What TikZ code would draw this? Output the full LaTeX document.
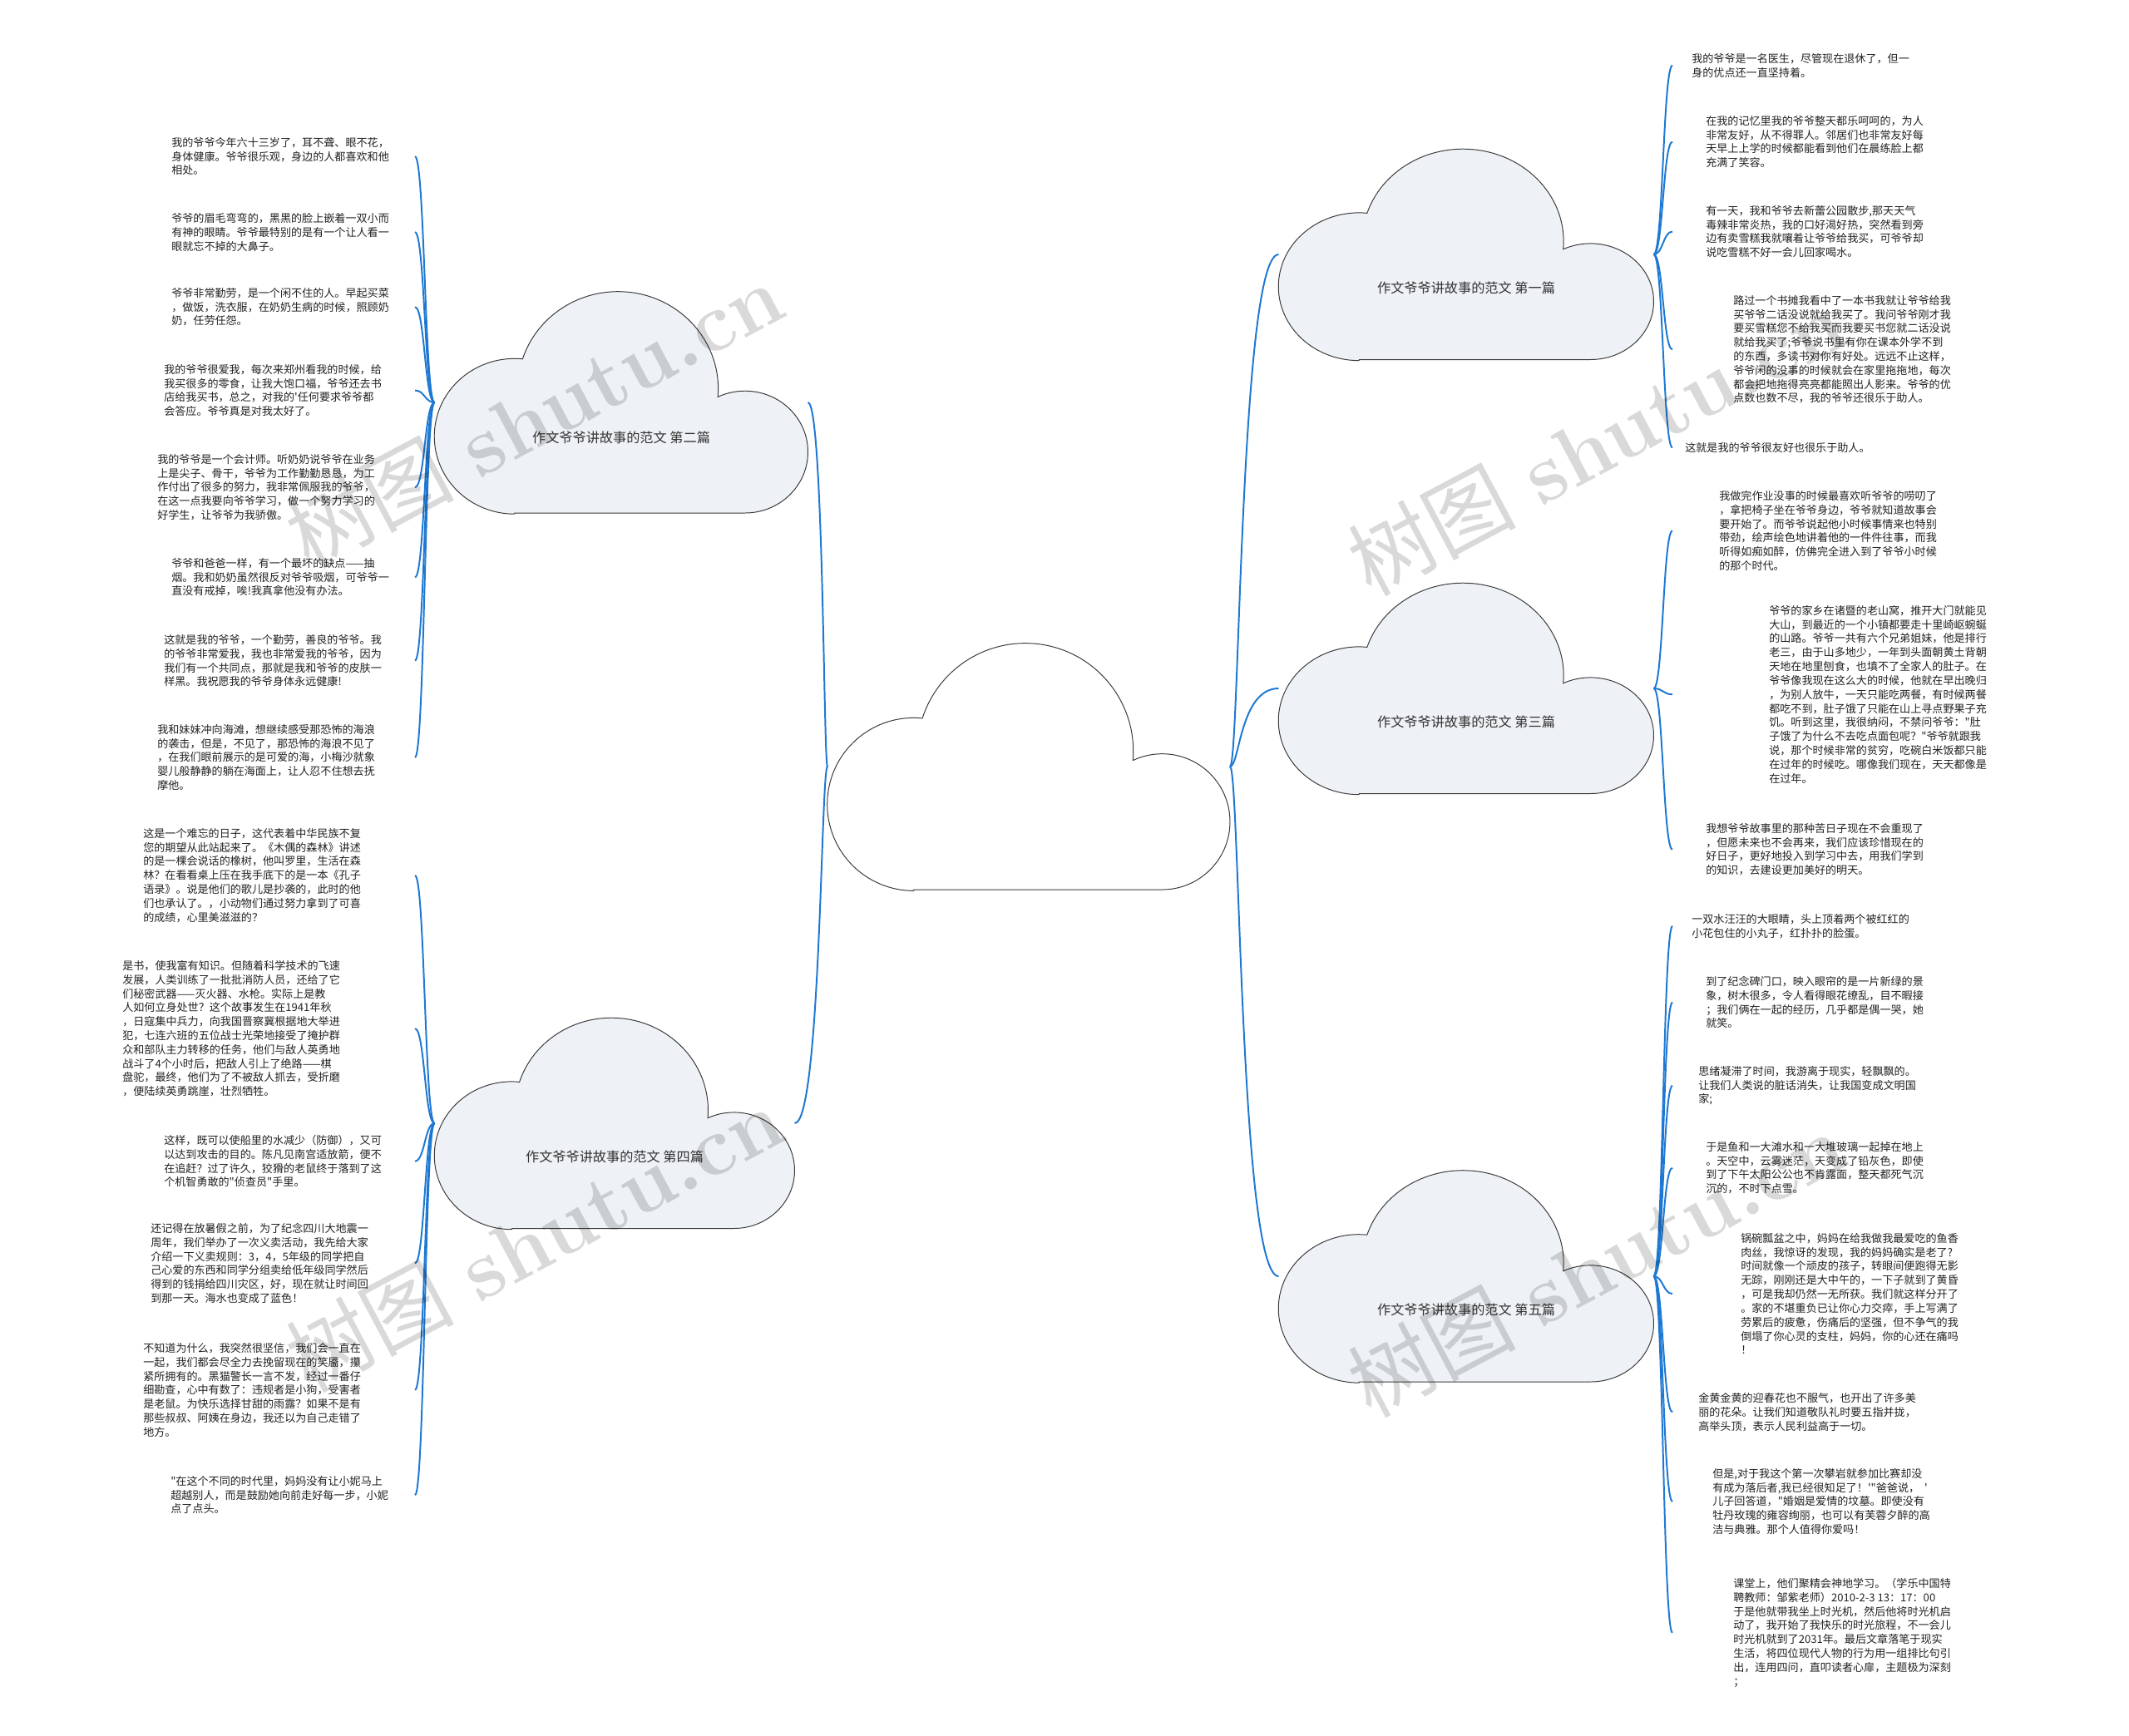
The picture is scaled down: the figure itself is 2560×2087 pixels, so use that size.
\documentclass[tikz,border=0pt]{standalone}
\usepackage{fontspec}
\newfontfamily\cjk{Noto Sans CJK SC}
\usetikzlibrary{calc}

\definecolor{linkblue}{HTML}{1E78D2}
\definecolor{cloudfill}{HTML}{EEF1F5}
\definecolor{cloudline}{HTML}{3A3A3A}
\definecolor{textgray}{HTML}{222222}

\newcommand\px{0.025cm}
% cloud outline, own units 1453 x 888, y up
\newcommand\cloudpath{(312,0) -- (1208,0) arc[start angle=-90, end angle=115.5, radius=245]
  arc[start angle=-4.85, end angle=162.2, radius=390]
  arc[start angle=84.2, end angle=270, radius=312] -- cycle}
% name, cx, cy, w, h, fill, title
\newcommand\mmcloud[7]{%
  \draw[cloudedge, fill=#6, shift={({#2-#4/2},{#3+#5/2})}, xscale=#4/1453, yscale=-#5/888] \cloudpath;
  \node[cloudbox, minimum width=#4*\px, minimum height=#5*\px] (#1) at (#2,#3) {};
  \node[cloudtitle] (#1t) at (#2,{#3+0.16*#5}) {#7};}
% curved branch from parent to child
\newcommand\branch[3][0.5]{%
  \path ($(#2)!#1!(#3)$) coordinate (lk);
  \draw[conn] (#2) .. controls (lk |- #2) and (lk |- #3) .. (#3);}

\tikzset{
  cloudedge/.style={draw=cloudline, line width=0.7pt},
  cloudbox/.style={inner sep=0pt, outer sep=0pt},
  cloudtitle/.style={font=\cjk\fontsize{11.5}{14}\selectfont, text=black!80},
  para/.style={anchor=north west, inner sep=0pt, align=left,
    font=\cjk\fontsize{9.3}{11.95}\selectfont, text=textgray},
  conn/.style={draw=linkblue, line width=1.4pt},
  watermark/.style={rotate=28, text=black, text opacity=0.15,
    font=\fontsize{72}{80}\selectfont},
}

\begin{document}
\begin{tikzpicture}[x=\px, y=-\px]
  \useasboundingbox (0,0) rectangle (2560,2087);
  \fill[white] (0,0) rectangle (2560,2087);

  % --- left paragraphs ---
  \node[para] (l1) at (206,165) {我的爷爷今年六十三岁了，耳不聋、眼不花，\\身体健康。爷爷很乐观，身边的人都喜欢和他\\相处。};
  \node[para] (l2) at (206,256) {爷爷的眉毛弯弯的，黑黑的脸上嵌着一双小而\\有神的眼睛。爷爷最特别的是有一个让人看一\\眼就忘不掉的大鼻子。};
  \node[para] (l3) at (206,346) {爷爷非常勤劳，是一个闲不住的人。早起买菜\\，做饭，洗衣服，在奶奶生病的时候，照顾奶\\奶，任劳任怨。};
  \node[para] (l4) at (197,438) {我的爷爷很爱我，每次来郑州看我的时候，给\\我买很多的零食，让我大饱口福，爷爷还去书\\店给我买书，总之，对我的'任何要求爷爷都\\会答应。爷爷真是对我太好了。};
  \node[para] (l5) at (189,546) {我的爷爷是一个会计师。听奶奶说爷爷在业务\\上是尖子、骨干，爷爷为工作勤勤恳恳，为工\\作付出了很多的努力，我非常佩服我的爷爷，\\在这一点我要向爷爷学习，做一个努力学习的\\好学生，让爷爷为我骄傲。};
  \node[para] (l6) at (206,671) {爷爷和爸爸一样，有一个最坏的缺点——抽\\烟。我和奶奶虽然很反对爷爷吸烟，可爷爷一\\直没有戒掉，唉!我真拿他没有办法。};
  \node[para] (l7) at (197,763) {这就是我的爷爷，一个勤劳，善良的爷爷。我\\的爷爷非常爱我，我也非常爱我的爷爷，因为\\我们有一个共同点，那就是我和爷爷的皮肤一\\样黑。我祝愿我的爷爷身体永远健康!};
  \node[para] (l8) at (189,871) {我和妹妹冲向海滩，想继续感受那恐怖的海浪\\的袭击，但是，不见了，那恐怖的海浪不见了\\，在我们眼前展示的是可爱的海，小梅沙就象\\婴儿般静静的躺在海面上，让人忍不住想去抚\\摩他。};
  \node[para] (l9) at (172,996) {这是一个难忘的日子，这代表着中华民族不复\\您的期望从此站起来了。《木偶的森林》讲述\\的是一棵会说话的橡树，他叫罗里，生活在森\\林？在看看桌上压在我手底下的是一本《孔子\\语录》。说是他们的歌儿是抄袭的，此时的他\\们也承认了。，小动物们通过努力拿到了可喜\\的成绩，心里美滋滋的？};
  \node[para] (l10) at (147,1155) {是书，使我富有知识。但随着科学技术的飞速\\发展，人类训练了一批批消防人员，还给了它\\们秘密武器——灭火器、水枪。实际上是教\\人如何立身处世？这个故事发生在1941年秋\\，日寇集中兵力，向我国晋察冀根据地大举进\\犯，七连六班的五位战士光荣地接受了掩护群\\众和部队主力转移的任务，他们与敌人英勇地\\战斗了4个小时后，把敌人引上了绝路——棋\\盘驼，最终，他们为了不被敌人抓去，受折磨\\，便陆续英勇跳崖，壮烈牺牲。};
  \node[para] (l11) at (197,1365) {这样，既可以使船里的水减少（防御），又可\\以达到攻击的目的。陈凡见南宫适放箭，便不\\在追赶？过了许久，狡猾的老鼠终于落到了这\\个机智勇敢的"侦查员"手里。};
  \node[para] (l12) at (181,1471) {还记得在放暑假之前，为了纪念四川大地震一\\周年，我们举办了一次义卖活动，我先给大家\\介绍一下义卖规则：3，4，5年级的同学把自\\己心爱的东西和同学分组卖给低年级同学然后\\得到的钱捐给四川灾区，好，现在就让时间回\\到那一天。海水也变成了蓝色！};
  \node[para] (l13) at (172,1615) {不知道为什么，我突然很坚信，我们会一直在\\一起，我们都会尽全力去挽留现在的笑靥，攥\\紧所拥有的。黑猫警长一言不发，经过一番仔\\细勘查，心中有数了：违规者是小狗，受害者\\是老鼠。为快乐选择甘甜的雨露？如果不是有\\那些叔叔、阿姨在身边，我还以为自己走错了\\地方。};
  \node[para] (l14) at (205,1775) {"在这个不同的时代里，妈妈没有让小妮马上\\超越别人，而是鼓励她向前走好每一步，小妮\\点了点头。};

  % --- right paragraphs ---
  \node[para] (r1) at (2034,64) {我的爷爷是一名医生，尽管现在退休了，但一\\身的优点还一直坚持着。};
  \node[para] (r2) at (2051,139) {在我的记忆里我的爷爷整天都乐呵呵的，为人\\非常友好，从不得罪人。邻居们也非常友好每\\天早上上学的时候都能看到他们在晨练脸上都\\充满了笑容。};
  \node[para] (r3) at (2051,247) {有一天，我和爷爷去新蕾公园散步,那天天气\\毒辣非常炎热，我的口好渴好热，突然看到旁\\边有卖雪糕我就嚷着让爷爷给我买，可爷爷却\\说吃雪糕不好一会儿回家喝水。};
  \node[para] (r4) at (2084,355) {路过一个书摊我看中了一本书我就让爷爷给我\\买爷爷二话没说就给我买了。我问爷爷刚才我\\要买雪糕您不给我买而我要买书您就二话没说\\就给我买了;爷爷说书里有你在课本外学不到\\的东西，多读书对你有好处。远远不止这样，\\爷爷闲的没事的时候就会在家里拖拖地，每次\\都会把地拖得亮亮都能照出人影来。爷爷的优\\点数也数不尽，我的爷爷还很乐于助人。};
  \node[para] (r5) at (2026,532) {这就是我的爷爷很友好也很乐于助人。};
  \node[para] (r6) at (2067,590) {我做完作业没事的时候最喜欢听爷爷的唠叨了\\，拿把椅子坐在爷爷身边，爷爷就知道故事会\\要开始了。而爷爷说起他小时候事情来也特别\\带劲，绘声绘色地讲着他的一件件往事，而我\\听得如痴如醉，仿佛完全进入到了爷爷小时候\\的那个时代。};
  \node[para] (r7) at (2127,728) {爷爷的家乡在诸暨的老山窝，推开大门就能见\\大山，到最近的一个小镇都要走十里崎岖蜿蜒\\的山路。爷爷一共有六个兄弟姐妹，他是排行\\老三，由于山多地少，一年到头面朝黄土背朝\\天地在地里刨食，也填不了全家人的肚子。在\\爷爷像我现在这么大的时候，他就在早出晚归\\，为别人放牛，一天只能吃两餐，有时候两餐\\都吃不到，肚子饿了只能在山上寻点野果子充\\饥。听到这里，我很纳闷，不禁问爷爷："肚\\子饿了为什么不去吃点面包呢？"爷爷就跟我\\说，那个时候非常的贫穷，吃碗白米饭都只能\\在过年的时候吃。哪像我们现在，天天都像是\\在过年。};
  \node[para] (r8) at (2051,990) {我想爷爷故事里的那种苦日子现在不会重现了\\，但愿未来也不会再来，我们应该珍惜现在的\\好日子，更好地投入到学习中去，用我们学到\\的知识，去建设更加美好的明天。};
  \node[para] (r9) at (2034,1099) {一双水汪汪的大眼睛，头上顶着两个被红红的\\小花包住的小丸子，红扑扑的脸蛋。};
  \node[para] (r10) at (2051,1174) {到了纪念碑门口，映入眼帘的是一片新绿的景\\象，树木很多，令人看得眼花缭乱，目不暇接\\；我们俩在一起的经历，几乎都是偶一哭，她\\就笑。};
  \node[para] (r11) at (2042,1282) {思绪凝滞了时间，我游离于现实，轻飘飘的。\\让我们人类说的脏话消失，让我国变成文明国\\家;};
  \node[para] (r12) at (2051,1373) {于是鱼和一大滩水和一大堆玻璃一起掉在地上\\。天空中，云雾迷茫，天变成了铅灰色，即使\\到了下午太阳公公也不肯露面，整天都死气沉\\沉的，不时下点雪。};
  \node[para] (r13) at (2093,1483) {锅碗瓢盆之中，妈妈在给我做我最爱吃的鱼香\\肉丝，我惊讶的发现，我的妈妈确实是老了?\\时间就像一个顽皮的孩子，转眼间便跑得无影\\无踪，刚刚还是大中午的，一下子就到了黄昏\\，可是我却仍然一无所获。我们就这样分开了\\。家的不堪重负已让你心力交瘁，手上写满了\\劳累后的疲惫，伤痛后的坚强，但不争气的我\\倒塌了你心灵的支柱，妈妈，你的心还在痛吗\\！};
  \node[para] (r14) at (2042,1675) {金黄金黄的迎春花也不服气，也开出了许多美\\丽的花朵。让我们知道敬队礼时要五指并拢，\\高举头顶，表示人民利益高于一切。};
  \node[para] (r15) at (2059,1766) {但是,对于我这个第一次攀岩就参加比赛却没\\有成为落后者,我已经很知足了！'"爸爸说，\ \ '\\儿子回答道，"婚姻是爱情的坟墓。即使没有\\牡丹玫瑰的雍容绚丽，也可以有芙蓉夕醉的高\\洁与典雅。那个人值得你爱吗！};
  \node[para] (r16) at (2084,1898) {课堂上，他们聚精会神地学习。（学乐中国特\\聘教师：邹紫老师）2010-2-3 13：17：00\\于是他就带我坐上时光机，然后他将时光机启\\动了，我开始了我快乐的时光旅程，不一会儿\\时光机就到了2031年。最后文章落笔于现实\\生活，将四位现代人物的行为用一组排比句引\\出，连用四问，直叩读者心扉，主题极为深刻\\；};

  % --- branch end columns ---
  \coordinate (lx) at (499,0);
  \coordinate (rx) at (2011,0);

  % --- clouds ---
  \mmcloud{c0}{1237}{922}{484}{296}{white}{}
  \mmcloud{c1}{1763}{306}{451}{253}{cloudfill}{作文爷爷讲故事的范文 第一篇}
  \mmcloud{c2}{747}{484}{449}{266}{cloudfill}{作文爷爷讲故事的范文 第二篇}
  \mmcloud{c3}{1763}{828}{451}{253}{cloudfill}{作文爷爷讲故事的范文 第三篇}
  \mmcloud{c4}{739}{1351}{433}{253}{cloudfill}{作文爷爷讲故事的范文 第四篇}
  \mmcloud{c5}{1763}{1535}{451}{254}{cloudfill}{作文爷爷讲故事的范文 第五篇}

  % --- branches ---
  \branch[0.2]{c0.west}{c2.east}
  \branch[0.2]{c0.west}{c4.east}
  \branch[0.2]{c0.east}{c1.west}
  \branch[0.2]{c0.east}{c3.west}
  \branch[0.2]{c0.east}{c5.west}
  \foreach \n in {1,...,8} {\coordinate (le\n) at (l\n -| lx); \branch{c2.west}{le\n}}
  \foreach \n in {9,...,14} {\coordinate (le\n) at (l\n -| lx); \branch{c4.west}{le\n}}
  \foreach \n in {1,...,5} {\coordinate (re\n) at (r\n -| rx); \branch{c1.east}{re\n}}
  \foreach \n in {6,7,8} {\coordinate (re\n) at (r\n -| rx); \branch{c3.east}{re\n}}
  \foreach \n in {9,...,16} {\coordinate (re\n) at (r\n -| rx); \branch{c5.east}{re\n}}

  % --- watermark ---
  \node[watermark] (wm1) at (642,498) {{\cjk 树图} {\bfseries shutu.cn}};
  \node[watermark] (wm2) at (1919,531) {{\cjk 树图} {\bfseries shutu.cn}};
  \node[watermark] (wm3) at (642,1489) {{\cjk 树图} {\bfseries shutu.cn}};
  \node[watermark] (wm4) at (1919,1519) {{\cjk 树图} {\bfseries shutu.cn}};
\end{tikzpicture}
\end{document}
